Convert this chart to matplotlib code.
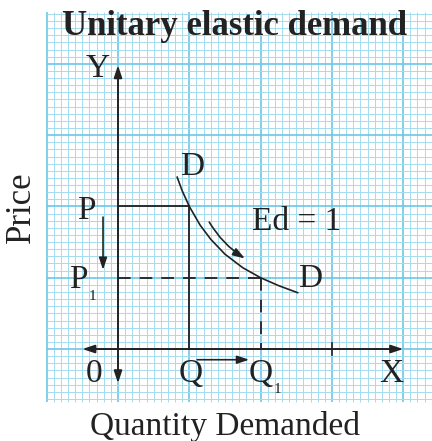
import matplotlib
matplotlib.use('Agg')
import matplotlib.pyplot as plt
from matplotlib.patches import FancyArrowPatch

# all values in grid units (one heavy grid square = 1)
price_levels = [2.0, 1.0]      # P, P1
quantity_levels = [1.0, 2.0]   # Q, Q1
# demand curve points (Ed = 1, rectangular hyperbola)
demand_q = [0.83, 0.90, 1.00, 1.15, 1.30, 1.50, 1.75, 2.00, 2.25, 2.52]
demand_p = [2.41, 2.22, 2.00, 1.74, 1.54, 1.33, 1.14, 1.00, 0.89, 0.79]
extra_tick = 3.0

ink = '#222222'
minor_c = '#a3dcef'
major_c = '#6cc6e6'

plt.rcParams['font.family'] = ['Liberation Serif', 'DejaVu Serif']

fig = plt.figure(figsize=(4.32, 4.41), dpi=100)
ax = fig.add_axes([0, 0, 1, 1])
ax.set_xlim(-1.655, 4.404)
ax.set_ylim(-1.290, 4.895)
ax.axis('off')

# graph paper
gx0, gx1, gy0, gy1 = -1.0, 4.42, -0.74, 4.73
for i in range(-10, 45):
    major = i % 10 == 0
    ax.vlines(i / 10, gy0, gy1, color=major_c if major else minor_c,
              lw=1.2 if major else 0.7, zorder=0)
for i in range(-7, 48):
    major = i % 10 == 0
    ax.hlines(i / 10, gx0, gx1, color=major_c if major else minor_c,
              lw=1.2 if major else 0.7, zorder=0)


def arrow(p0, p1, both=False, rad=0.0, lw=1.2):
    style = '<|-|>' if both else '-|>'
    a = FancyArrowPatch(p0, p1, arrowstyle=style + ',head_length=0.6,head_width=0.2',
                        mutation_scale=12, color=ink, lw=lw, shrinkA=0, shrinkB=0,
                        connectionstyle=f'arc3,rad={rad}', zorder=3)
    ax.add_patch(a)


# axes
arrow((0, -0.48), (0, 3.98), both=True, lw=1.4)
arrow((-0.50, 0), (4.0, 0), both=True, lw=1.4)
ax.plot([extra_tick, extra_tick], [-0.08, 0.08], color=ink, lw=1.2)

P, P1 = price_levels
Q, Q1 = quantity_levels
ax.plot([0, Q], [P, P], color=ink, lw=1.3)
ax.plot([Q, Q], [P, 0], color=ink, lw=1.3)
ax.plot([0, Q1], [P1, P1], color=ink, lw=1.3, dashes=(7, 5))
ax.plot([Q1, Q1], [P1, 0], color=ink, lw=1.3, dashes=(7, 5))

ax.plot(demand_q, demand_p, color=ink, lw=1.2, zorder=3)

# movement arrows
arrow((-0.21, 1.85), (-0.21, 1.11))
arrow((1.11, -0.15), (1.84, -0.15))
arrow((1.28, 1.78), (1.78, 1.27), rad=0.12)

# texts
kw = dict(color=ink, ha='center', va='center', fontsize=24)
sub = dict(color=ink, ha='center', va='center', fontsize=11)
ax.text(1.64, 4.53, 'Unitary elastic demand', color=ink, ha='center', va='center',
        fontsize=25, fontweight='bold')
ax.text(-1.35, 1.99, 'Price', rotation=90, color=ink, ha='center', va='center', fontsize=25)
ax.text(1.50, -1.09, 'Quantity Demanded', **kw)
ax.text(-0.28, 3.93, 'Y', **kw)
ax.text(1.04, 2.55, 'D', **kw)
ax.text(2.69, 0.98, 'D', **kw)
ax.text(-0.45, 1.94, 'P', **kw)
ax.text(-0.56, 0.97, 'P', **kw)
ax.text(-0.36, 0.74, '1', **sub)
ax.text(-0.34, -0.34, '0', **kw)
ax.text(1.02, -0.34, 'Q', **kw)
ax.text(2.00, -0.34, 'Q', **kw)
ax.text(2.24, -0.57, '1', **sub)
ax.text(2.50, 1.78, 'Ed = 1', **kw)
ax.text(3.84, -0.34, 'X', **kw)

fig.savefig('out.png', dpi=100)
